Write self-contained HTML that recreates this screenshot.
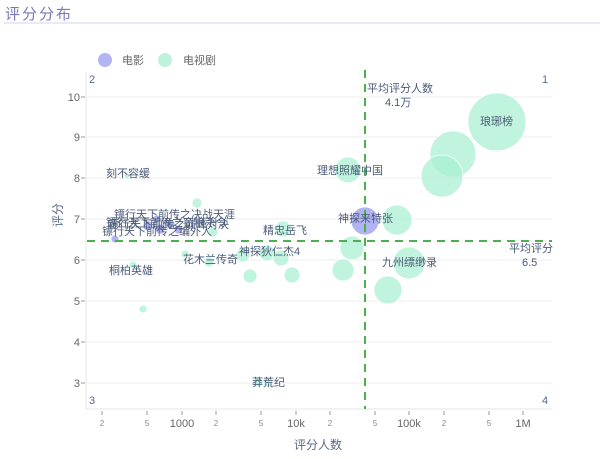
<!DOCTYPE html>
<html><head><meta charset="utf-8"><style>
body{margin:0;background:#fff;}
text{font-family:"Liberation Sans","Noto Sans CJK SC",sans-serif;}
</style></head><body>
<svg width="600" height="454" xmlns="http://www.w3.org/2000/svg">
<text x="5" y="19" font-size="15" fill="#7b78b8" letter-spacing="2">评分分布</text>
<line x1="4" y1="23" x2="600" y2="23" stroke="#e4e2f5" stroke-width="1.5"/>
<circle cx="105" cy="60" r="7" fill="#b3b4f3"/>
<text x="122" y="64" font-size="11" fill="#666">电影</text>
<circle cx="165" cy="60" r="7" fill="#bff2da"/>
<text x="183" y="64" font-size="11" fill="#666">电视剧</text>
<g stroke="#eeeeee" stroke-width="1">
<line x1="87" y1="97" x2="552" y2="97"/><line x1="87" y1="137" x2="552" y2="137"/>
<line x1="87" y1="178" x2="552" y2="178"/><line x1="87" y1="219" x2="552" y2="219"/>
<line x1="87" y1="260" x2="552" y2="260"/><line x1="87" y1="301" x2="552" y2="301"/>
<line x1="87" y1="342" x2="552" y2="342"/><line x1="87" y1="383" x2="552" y2="383"/>
</g>
<line x1="86" y1="72" x2="86" y2="409" stroke="#e6e6e6"/>
<line x1="86" y1="409" x2="552" y2="409" stroke="#e6e6e6"/>
<g font-size="11" fill="#666" text-anchor="end">
<text x="80" y="101">10</text><text x="80" y="141">9</text><text x="80" y="182">8</text><text x="80" y="223">7</text>
<text x="80" y="264">6</text><text x="80" y="305">5</text><text x="80" y="346">4</text><text x="80" y="387">3</text>
</g>
<g stroke="#999"><line x1="81" y1="97" x2="85" y2="97"/><line x1="81" y1="137" x2="85" y2="137"/><line x1="81" y1="178" x2="85" y2="178"/><line x1="81" y1="219" x2="85" y2="219"/><line x1="81" y1="260" x2="85" y2="260"/><line x1="81" y1="301" x2="85" y2="301"/><line x1="81" y1="342" x2="85" y2="342"/><line x1="81" y1="383" x2="85" y2="383"/></g>
<g stroke="#999">
<line x1="102" y1="411" x2="102" y2="415"/><line x1="147" y1="411" x2="147" y2="415"/><line x1="182" y1="411" x2="182" y2="415"/>
<line x1="216" y1="411" x2="216" y2="415"/><line x1="261" y1="411" x2="261" y2="415"/><line x1="296" y1="411" x2="296" y2="415"/>
<line x1="330" y1="411" x2="330" y2="415"/><line x1="375" y1="411" x2="375" y2="415"/><line x1="409" y1="411" x2="409" y2="415"/>
<line x1="444" y1="411" x2="444" y2="415"/><line x1="489" y1="411" x2="489" y2="415"/><line x1="523" y1="411" x2="523" y2="415"/>
</g>
<g font-size="8" fill="#888" text-anchor="middle">
<text x="102" y="426">2</text><text x="147" y="426">5</text><text x="216" y="426">2</text><text x="261" y="426">5</text>
<text x="330" y="426">2</text><text x="375" y="426">5</text><text x="444" y="426">2</text><text x="489" y="426">5</text>
</g>
<g font-size="11" fill="#666" text-anchor="middle">
<text x="182" y="427">1000</text><text x="296" y="427">10k</text><text x="409" y="427">100k</text><text x="523" y="427">1M</text>
</g>
<text x="318" y="449" font-size="12" fill="#5a6a8a" text-anchor="middle">评分人数</text>
<text x="62" y="215" font-size="12" fill="#5a6a8a" text-anchor="middle" transform="rotate(-90 62 215)">评分</text>
<g font-size="11" fill="#5a6a8a">
<text x="89" y="83">2</text><text x="542" y="83">1</text><text x="89" y="404">3</text><text x="542" y="404">4</text>
</g>
<g fill="#a6efd0" fill-opacity="0.7" stroke="#fff" stroke-width="0.8">
<circle cx="497" cy="122" r="29"/>
<circle cx="453" cy="154" r="23"/>
<circle cx="442" cy="176" r="21"/>
<circle cx="348" cy="170" r="13"/>
<circle cx="397" cy="220" r="15"/>
<circle cx="352" cy="248" r="12"/>
<circle cx="343" cy="270" r="11"/>
<circle cx="409" cy="263" r="16"/>
<circle cx="388" cy="290" r="14"/>
<circle cx="292" cy="275" r="8"/>
<circle cx="250" cy="276" r="7"/>
<circle cx="243" cy="255" r="7"/>
<circle cx="267" cy="253" r="8"/>
<circle cx="281" cy="258" r="8"/>
<circle cx="283" cy="229" r="8"/>
<circle cx="213" cy="232" r="5"/>
<circle cx="197" cy="203" r="5"/>
<circle cx="185" cy="254" r="4"/>
<circle cx="209" cy="262" r="5"/>
<circle cx="133" cy="265" r="4"/>
<circle cx="143" cy="309" r="4"/>
<circle cx="127" cy="176" r="3"/>
<circle cx="258" cy="382" r="5"/>
<circle cx="268" cy="382" r="5"/>
</g>
<g fill="#9ea0ef" fill-opacity="0.8" stroke="#fff" stroke-width="0.8">
<circle cx="365" cy="221" r="14"/>
<circle cx="115" cy="239" r="4"/>
<circle cx="148" cy="226" r="5"/>
<circle cx="160" cy="229" r="5"/>
<circle cx="170" cy="224" r="5"/>
<circle cx="157" cy="219" r="4"/>
<circle cx="178" cy="230" r="4"/>
</g>
<g stroke="#4caf50" stroke-width="2" stroke-dasharray="8,6">
<line x1="87" y1="241" x2="552" y2="241"/>
<line x1="365" y1="70" x2="365" y2="409"/>
</g>
<g font-size="11" fill="#4a5a78">
<text x="367" y="92">平均评分人数</text>
<text x="385" y="106">4.1万</text>
<text x="480" y="125">琅琊榜</text>
<text x="317" y="174">理想照耀中国</text>
<text x="338" y="222">神探来特张</text>
<text x="382" y="266">九州缥缈录</text>
<text x="509" y="252">平均评分</text>
<text x="522" y="266">6.5</text>
<text x="263" y="234">精忠岳飞</text>
<text x="239" y="255">神探狄仁杰4</text>
<text x="183" y="263">花木兰传奇</text>
<text x="109" y="274">桐柏英雄</text>
<text x="106" y="177">刻不容缓</text>
<text x="252" y="386">莽荒纪</text>
<text x="114" y="218">镖行天下前传之决战天涯</text>
<text x="106" y="226">镖行天下前传之窃粮杀令</text>
<text x="108" y="228">镖行天下前传之巅峰对决</text>
<text x="102" y="235">镖行天下前传之编外人</text>
</g>
</svg>
</body></html>
